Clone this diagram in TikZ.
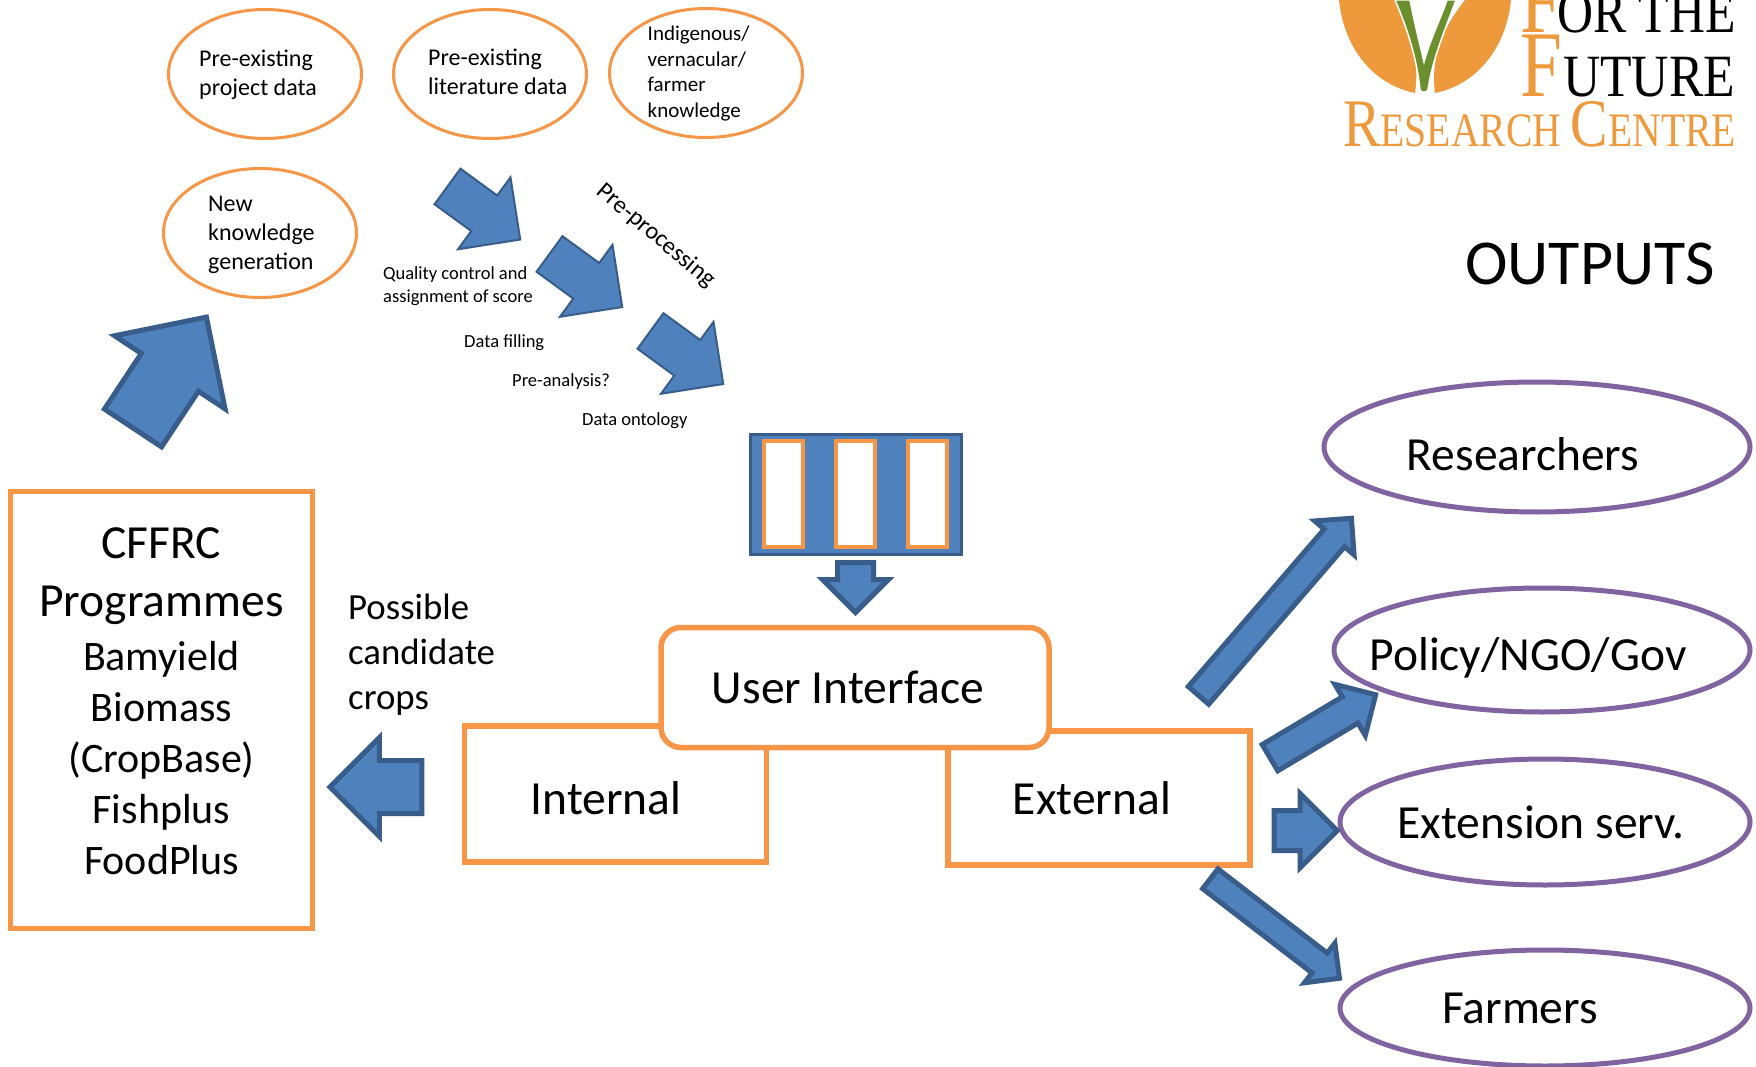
\documentclass[tikz,border=0pt]{standalone}
\usepackage{fontspec}
\setmainfont{Carlito}
\newfontfamily\logofont{Liberation Serif}
\usetikzlibrary{shapes.geometric,shapes.arrows,positioning}
\definecolor{arrowfill}{HTML}{4F81BD}
\definecolor{arrowline}{HTML}{385D8A}
\definecolor{boxline}{HTML}{F79646}
\definecolor{outline}{HTML}{8064A2}
\definecolor{leafgreen}{HTML}{6C8F2E}
\definecolor{logoorange}{HTML}{EE9A3C}
\newcommand{\fsz}[2]{\fontsize{#1}{#2}\selectfont}

\begin{document}
\begin{tikzpicture}[x=1pt,y=-1pt]
  \tikzstyle{source}=[ellipse, draw=boxline, line width=3pt, fill=white, outer sep=0pt, inner sep=0pt, minimum width=193pt, minimum height=129pt]
  \tikzstyle{target}=[ellipse, draw=outline, line width=5pt, fill=white, outer sep=0pt, inner sep=0pt]
  \tikzstyle{block}=[rectangle, draw=boxline, line width=5.5pt, fill=white, outer sep=0pt, inner sep=0pt]
  \tikzstyle{slot}=[rectangle, draw=boxline, line width=3.5pt, fill=white, outer sep=0pt, inner sep=0pt, minimum width=39pt, minimum height=106pt]
  \tikzstyle{small}=[align=left, inner sep=0pt, font=\fsz{24}{29}]
  \tikzstyle{tiny}=[align=left, inner sep=0pt, anchor=west, font=\fsz{18.5}{23.5}]
  \tikzstyle{big}=[inner sep=0pt, font=\fsz{47.5}{58}]
  \tikzset{blockarrow/.style n args={3}{single arrow, draw=arrowline, fill=arrowfill, line width=5pt, minimum height=#1, inner xsep=0pt, inner ysep=#2/2, single arrow head extend=#3, outer sep=0pt, anchor=tail}}
  \tikzstyle{thin arrow}=[line width=2pt]
  \tikzstyle{logotext}=[inner sep=0pt, anchor=base west, transform shape]

  \useasboundingbox (0,0) rectangle (1756,1067);
  \fill[white] (0,0) rectangle (1756,1067);

  \fill[logoorange] (1339,0) .. controls (1344,50) and (1375,85) .. (1415,93) .. controls (1420,55) and (1410,25) .. (1395,0) -- cycle;
  \fill[logoorange] (1511,0) .. controls (1506,50) and (1475,85) .. (1435,93) .. controls (1430,55) and (1445,25) .. (1465,0) -- cycle;
  \filldraw[fill=leafgreen, draw=white, line width=1.5pt] (1395,0) -- (1410,0) .. controls (1415,25) and (1420,45) .. (1424,62) .. controls (1430,40) and (1440,20) .. (1447,0) -- (1456,0) .. controls (1445,30) and (1432,60) .. (1428,90) .. controls (1426,93) and (1422,93) .. (1420,90) .. controls (1417,60) and (1408,30) .. (1395,0) -- cycle;
  \node[logotext, xscale=.8, text=logoorange] (logo_f1) at (1520,33) {\logofont\fsz{94}{94}F};
  \node[logotext, xscale=.83] (logo_l1) at (1557,33) {\logofont\fsz{60}{60}OR THE};
  \node[logotext, xscale=.8, text=logoorange] (logo_f2) at (1520,97) {\logofont\fsz{94}{94}F};
  \node[logotext, xscale=.86] (logo_l2) at (1563,97) {\logofont\fsz{60}{60}UTURE};
  \node[logotext, xscale=.825, text=logoorange] (logo_l3) at (1343,147) {\logofont\fsz{68}{68}R\fsz{48}{48}ESEARCH \fsz{68}{68}C\fsz{48}{48}ENTRE};

  \node[source] (s_proj) at (265,74) {};
  \node[source] (s_lit) at (490,74) {};
  \node[source] (s_ind) at (706,73) {};
  \node[source] (s_new) at (260,233) {};
  \node[small, anchor=west] (t_proj) at (199,75) {Pre-existing\\project data};
  \node[small, anchor=west] (t_lit) at (428,72) {Pre-existing\\literature data};
  \node[small, anchor=west, font=\fsz{21}{25.6}] (t_ind) at (647.5,73.5) {Indigenous/\\vernacular/\\farmer\\knowledge};
  \node[small, anchor=west] (t_new) at (208,235) {New\\knowledge\\generation};

  \node[blockarrow={133}{63.5}{32}, rotate=56.5] (a_new) at (133,428) {};
  \node[blockarrow={90}{42}{22.5}, thin arrow, rotate=-36.1] (a_pre1) at (447.5,186.5) {};
  \node[blockarrow={90}{42}{22.5}, thin arrow, rotate=-36.1] (a_pre2) at (549.5,254) {};
  \node[blockarrow={90}{42}{22.5}, thin arrow, rotate=-36.1] (a_pre3) at (650.5,331) {};

  \node[tiny] (t_qual) at (383,286) {Quality control and\\assignment of score};
  \node[tiny] (t_fill) at (464,343) {Data filling};
  \node[tiny] (t_ana) at (512,382) {Pre-analysis?};
  \node[tiny] (t_ont) at (582,421) {Data ontology};
  \node[inner sep=0pt, rotate=-40, font=\fsz{24.5}{30}] (t_pre) at (656,236) {Pre-processing};

  \node[rectangle, draw=arrowline, fill=arrowfill, line width=3pt, outer sep=0pt, inner sep=0pt, minimum width=211pt, minimum height=120pt] (store) at (855.5,494.5) {};
  \node[slot] (slot_a) at (783.5,494) {};
  \node[slot] (slot_b) at (855.5,494) {};
  \node[slot] (slot_c) at (927.5,494) {};
  \node[blockarrow={50}{31}{15}, rotate=-90] (a_down) at (855.5,562.5) {};

  \node[block, minimum width=302pt, minimum height=136pt] (b_int) at (615.5,794) {};
  \node[block, minimum width=302pt, minimum height=134pt] (b_ext) at (1099,798) {};
  \node[block, rounded corners=20pt, minimum width=388pt, minimum height=120pt] (b_ui) at (855,687.5) {};
  \node[big] (t_ui) at (848,687) {User Interface};
  \node[big] (t_int) at (606,798) {Internal};
  \node[big] (t_ext) at (1092,798) {External};

  \node[block, minimum width=302pt, minimum height=437pt] (b_cffrc) at (161.5,710) {};
  \node[inner sep=0pt, align=center, font=\fsz{42}{51}] (t_cffrc) at (161.5,701) {\fsz{47.5}{58}CFFRC\\[7pt]\fsz{47.5}{58}Programmes\\[2.5pt]Bamyield\\Biomass\\(CropBase)\\Fishplus\\FoodPlus};
  \node[small, font=\fsz{36.8}{45}, anchor=west] (t_crops) at (348,655) {Possible\\candidate\\crops};
  \node[blockarrow={92}{48}{23}, rotate=180] (a_left) at (421.8,787) {};

  \node[inner sep=0pt, font=\fsz{64}{70}] (t_out) at (1590,264) {OUTPUTS};
  \node[target, minimum width=426pt, minimum height=130pt] (o_res) at (1537,447) {};
  \node[target, minimum width=416pt, minimum height=124pt] (o_pol) at (1542,650) {};
  \node[target, minimum width=410pt, minimum height=126pt] (o_ext) at (1545,822) {};
  \node[target, minimum width=410pt, minimum height=116pt] (o_far) at (1545,1008) {};
  \node[big] (t_res) at (1523,454) {Researchers};
  \node[big] (t_pol) at (1528,658) {Policy/NGO/Gov};
  \node[big] (t_ex) at (1541,822) {Extension serv.};
  \node[big] (t_far) at (1520,1008) {Farmers};

  \node[blockarrow={234}{22}{12.5}, rotate=49.2] (a_res) at (1198.5,695.4) {};
  \node[blockarrow={123}{25.5}{14.5}, rotate=30.8] (a_pol) at (1270,757.7) {};
  \node[blockarrow={63}{35}{17}] (a_ext) at (1274.2,830.7) {};
  \node[blockarrow={163}{20}{12.5}, rotate=-37.6] (a_far) at (1210.3,878.8) {};
\end{tikzpicture}
\end{document}
